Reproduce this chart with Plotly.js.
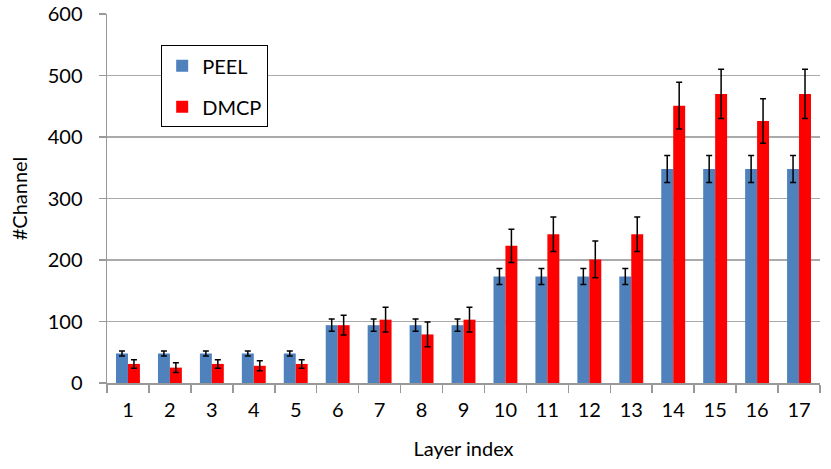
<!DOCTYPE html>
<html>
<head>
<meta charset="utf-8">
<script src="https://cdn.plot.ly/plotly-3.0.1.min.js"></script>
<style>html,body{margin:0;padding:0;background:#fff;}#chart{width:831px;height:469px;}</style>
</head>
<body>
<div id="chart"></div>
<script>
var layers = ["1","2","3","4","5","6","7","8","9","10","11","12","13","14","15","16","17"];
var peel = [48,48,48,48,48,94,94,94,94,173,173,173,173,348,348,348,348];
var peelErr = [4,4,4,4,4,10,10,10,10,13,13,13,13,22,22,22,22];
var dmcp = [31,25,31,28,31,94,103,79,103,223,242,201,242,451,470,426,470];
var dmcpErr = [7,8,7,8,7,16,20,20,20,27,28,30,28,38,40,36,40];

var font = "Lato, 'Open Sans', 'Liberation Sans', sans-serif";
var traces = [
  {type:"bar", name:"PEEL", legendgroup:"a", x:layers, y:peel, marker:{color:"#4F81BD"},
   error_y:{type:"data", array:peelErr, visible:true, color:"#000", thickness:1.5, width:3}},
  {type:"bar", name:"DMCP", legendgroup:"b", x:layers, y:dmcp, marker:{color:"#FF0000"},
   error_y:{type:"data", array:dmcpErr, visible:true, color:"#000", thickness:1.5, width:3}}
];
var layout = {
  width:831, height:469,
  margin:{l:107, r:11, t:14, b:86},
  paper_bgcolor:"#fff", plot_bgcolor:"#fff",
  font:{family:font, size:20, color:"#000"},
  barmode:"group", bargap:0.43, bargroupgap:0,
  showlegend:true,
  legend:{x:0.076, y:0.915, xanchor:"left", yanchor:"top", bgcolor:"#fff",
          bordercolor:"#000", borderwidth:1, font:{family:font, size:20},
          traceorder:"grouped", tracegroupgap:12, itemwidth:30},
  xaxis:{type:"category", title:{text:"Layer index", font:{family:font, size:20}, standoff:22},
         showline:true, linecolor:"#999", linewidth:1.5, ticks:"outside", tickson:"boundaries",
         ticklen:8, tickcolor:"#999", tickwidth:1.5, showgrid:false, zeroline:false,
         ticklabelstandoff:8, tickfont:{family:font, size:20}},
  yaxis:{range:[0,600], dtick:100, title:{text:"#Channel", font:{family:font, size:20}, standoff:14},
         showline:true, linecolor:"#999", linewidth:1.5, ticks:"outside", ticklen:7,
         tickcolor:"#999", tickwidth:1.5, showgrid:true, gridcolor:"#aaa", gridwidth:1.5,
         zeroline:false, ticklabelstandoff:12, tickfont:{family:font, size:20}}
};
Plotly.newPlot("chart", traces, layout, {displayModeBar:false, staticPlot:true});
</script>
</body>
</html>
